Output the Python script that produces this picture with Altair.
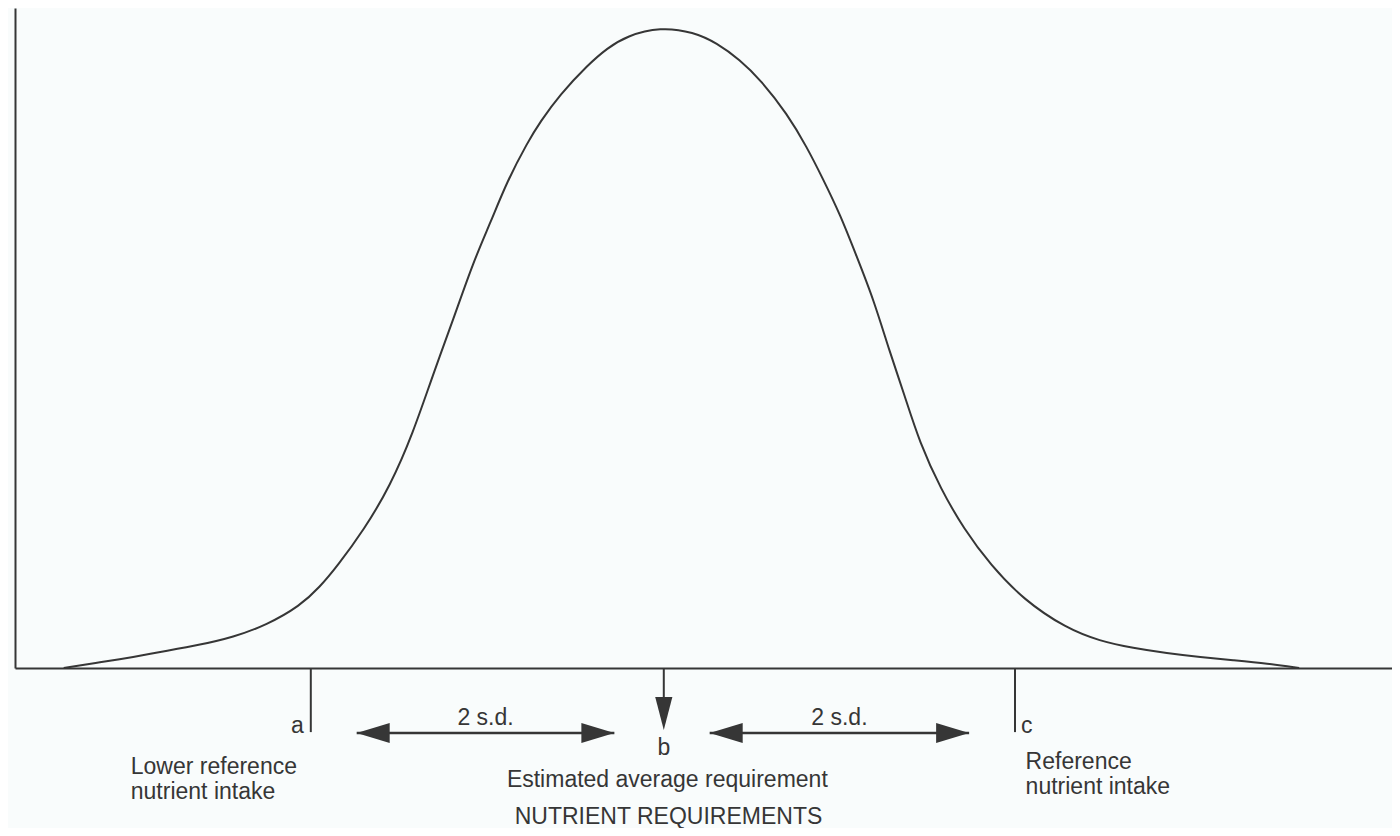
import altair as alt
import pandas as pd

# ---- data (x in standard-deviation units around the mean requirement,
#      y as % of the peak frequency) ----
curve_x = [-3.39, -3.18, -3.00, -2.80, -2.62, -2.43, -2.24, -2.05, -1.94, -1.84,
           -1.69, -1.54, -1.41, -1.30, -1.18, -1.07, -0.97, -0.88, -0.76, -0.69,
           -0.58, -0.42, -0.31, -0.20, -0.01, 0.18, 0.31, 0.44, 0.56, 0.71,
           0.82, 0.91, 1.01, 1.10, 1.20, 1.29, 1.37, 1.46, 1.58, 1.71,
           1.86, 2.05, 2.29, 2.48, 2.67, 2.86, 3.05, 3.24, 3.43, 3.61]
curve_y = [0.0, 0.9, 1.7, 2.7, 3.6, 4.8, 6.7, 9.7, 12.6, 15.9,
           21.5, 28.4, 36.7, 45.6, 54.6, 63.3, 69.6, 75.8, 82.1, 85.2,
           89.4, 94.1, 96.7, 98.6, 100.0, 99.2, 97.5, 94.9, 91.7, 86.4,
           81.3, 76.4, 70.7, 64.4, 57.4, 49.3, 42.9, 35.1, 27.9, 21.7,
           16.1, 10.6, 6.2, 4.2, 3.1, 2.3, 1.7, 1.2, 0.7, 0.0]

ref_letters = ["a", "b", "c"]
ref_pos = [-1.99, 0.01, 2.00]
ref_names = ["Lower reference\nnutrient intake",
             "Estimated average requirement",
             "Reference\nnutrient intake"]
name_x = [-3.01, 0.03, 2.06]
name_align = ["left", "center", "left"]

sd_from = [-1.73, 0.27]
sd_to = [-0.27, 1.74]
sd_label = "2 s.d."

x_domain = [-3.666, 4.136]
y_domain = [0, 102.96]

# levels below the axis (same y units)
tick_end = -10.0
arrow_row = -10.14
sd_text_row = -8.89
letter_row = [-10.14, -13.57, -10.14]
name_row = [-16.54, -18.56, -15.76]
b_tip = -9.67

INK = "#363636"
FONT = "Liberation Sans"
FS = 23

xs = alt.Scale(domain=x_domain, nice=False, zero=False)
ys = alt.Scale(domain=y_domain, nice=False, zero=False)

curve_df = pd.DataFrame({"x": curve_x, "y": curve_y})

base_axis_x = alt.Axis(domain=True, ticks=False, labels=False, grid=False,
                       domainColor=INK, domainWidth=2,
                       title="NUTRIENT REQUIREMENTS", titleFont=FONT,
                       titleFontSize=FS, titleFontWeight="normal", titleColor=INK,
                       titleBaseline="alphabetic", titleY=155, titleX=653,
                       titleAlign="center", titleAnchor="start")
base_axis_y = alt.Axis(domain=True, ticks=False, labels=False, grid=False,
                       domainColor=INK, domainWidth=2, title=None)

curve = alt.Chart(curve_df).mark_line(
    color=INK, strokeWidth=2, interpolate="basis"
).encode(
    x=alt.X("x:Q", scale=xs, axis=base_axis_x),
    y=alt.Y("y:Q", scale=ys, axis=base_axis_y),
)

# ticks a and c
tick_df = pd.DataFrame({"x": [ref_pos[0], ref_pos[2]], "y": [0, 0],
                        "y2": [tick_end, tick_end]})
ticks = alt.Chart(tick_df).mark_rule(color=INK, strokeWidth=2).encode(
    x=alt.X("x:Q", scale=xs), y=alt.Y("y:Q", scale=ys), y2="y2:Q")

# arrow b
b_df = pd.DataFrame({"x": [ref_pos[1]], "y": [0], "y2": [b_tip + 1]})
b_shaft = alt.Chart(b_df).mark_rule(color=INK, strokeWidth=2).encode(
    x=alt.X("x:Q", scale=xs), y=alt.Y("y:Q", scale=ys), y2="y2:Q")
b_head_df = pd.DataFrame({"x": [ref_pos[1]], "y": [b_tip]})
b_head = alt.Chart(b_head_df).mark_point(
    shape="M0,0L-0.52,-2L0.52,-2Z", filled=True, fill=INK, stroke=None,
    size=1089, opacity=1
).encode(x=alt.X("x:Q", scale=xs), y=alt.Y("y:Q", scale=ys))

# double arrows (2 s.d.)
sd_df = pd.DataFrame({"x": sd_from, "x2": sd_to, "y": [arrow_row] * 2})
sd_shaft = alt.Chart(sd_df).mark_rule(color=INK, strokeWidth=2.5).encode(
    x=alt.X("x:Q", scale=xs), x2="x2:Q", y=alt.Y("y:Q", scale=ys))
left_heads = alt.Chart(pd.DataFrame({"x": sd_from, "y": [arrow_row] * 2})).mark_point(
    shape="M0,0L2,-0.6L2,0.6Z", filled=True, fill=INK, stroke=None,
    size=1089, opacity=1
).encode(x=alt.X("x:Q", scale=xs), y=alt.Y("y:Q", scale=ys))
right_heads = alt.Chart(pd.DataFrame({"x": sd_to, "y": [arrow_row] * 2})).mark_point(
    shape="M0,0L-2,-0.6L-2,0.6Z", filled=True, fill=INK, stroke=None,
    size=1089, opacity=1
).encode(x=alt.X("x:Q", scale=xs), y=alt.Y("y:Q", scale=ys))

sd_text_df = pd.DataFrame({"x": [(a + b) / 2 for a, b in zip(sd_from, sd_to)],
                           "y": [sd_text_row] * 2, "t": [sd_label] * 2})
sd_text = alt.Chart(sd_text_df).mark_text(
    font=FONT, fontSize=FS, color=INK, align="center", baseline="alphabetic"
).encode(x=alt.X("x:Q", scale=xs), y=alt.Y("y:Q", scale=ys), text="t:N")

# letters
letter_df = pd.DataFrame({"x": ref_pos, "y": letter_row, "t": ref_letters})
letter_a = alt.Chart(letter_df.iloc[[0]]).mark_text(
    font=FONT, fontSize=FS, color=INK, align="right", baseline="alphabetic", dx=-7
).encode(x=alt.X("x:Q", scale=xs), y=alt.Y("y:Q", scale=ys), text="t:N")
letter_b = alt.Chart(letter_df.iloc[[1]]).mark_text(
    font=FONT, fontSize=FS, color=INK, align="center", baseline="alphabetic"
).encode(x=alt.X("x:Q", scale=xs), y=alt.Y("y:Q", scale=ys), text="t:N")
letter_c = alt.Chart(letter_df.iloc[[2]]).mark_text(
    font=FONT, fontSize=FS, color=INK, align="left", baseline="alphabetic", dx=6
).encode(x=alt.X("x:Q", scale=xs), y=alt.Y("y:Q", scale=ys), text="t:N")

# names
name_layers = []
for nx, ny, nm, al in zip(name_x, name_row, ref_names, name_align):
    d = pd.DataFrame({"x": [nx], "y": [ny], "t": [nm]})
    name_layers.append(
        alt.Chart(d).mark_text(
            font=FONT, fontSize=FS, color=INK, align=al, baseline="alphabetic",
            lineBreak="\n", lineHeight=25
        ).encode(x=alt.X("x:Q", scale=xs), y=alt.Y("y:Q", scale=ys), text="t:N")
    )

chart = alt.layer(
    curve, ticks, b_shaft, b_head, sd_shaft, left_heads, right_heads,
    sd_text, letter_a, letter_b, letter_c, *name_layers
).properties(
    width=1377, height=660,
    autosize=alt.AutoSizeParams(type="none"),
    padding={"left": 7, "top": 0, "right": 0, "bottom": 160},
    background="#f9fcfc",
).configure_view(stroke=None)

chart.save("out.html", embed_options={"renderer": "svg", "actions": False})
